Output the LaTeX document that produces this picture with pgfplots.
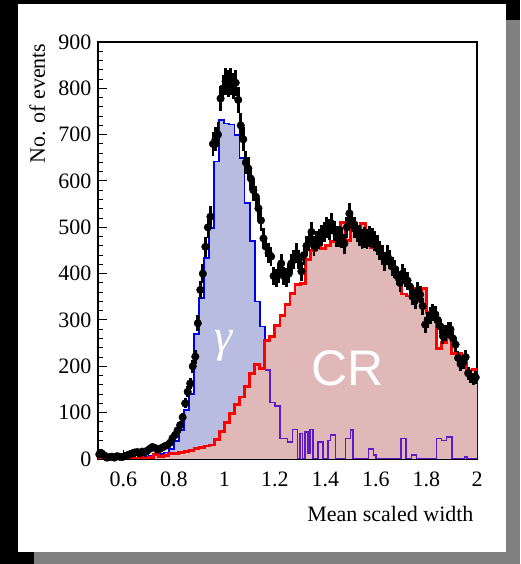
\documentclass[border=0pt]{standalone}
\usepackage{pgfplots}
\pgfplotsset{compat=1.18}
\usepackage{pgfplotstable}
\usepackage{fontspec}
\setmainfont{Liberation Serif}
\newfontfamily\sansf{Liberation Sans}
\definecolor{bfill}{RGB}{184,188,224}
\definecolor{rfill}{RGB}{224,184,184}
\definecolor{bline}{RGB}{0,0,230}
\definecolor{pline}{RGB}{95,25,200}
\definecolor{rline}{RGB}{255,0,0}
\definecolor{shadowgray}{RGB}{128,128,128}

% gamma MC histogram (left bin edges), full
\pgfplotstableread{
x y
0.50 0
0.52 0
0.54 0
0.56 1
0.58 1
0.60 2
0.62 2
0.64 3
0.66 4
0.68 5
0.70 6
0.72 8
0.74 10
0.76 14
0.78 22
0.80 38
0.82 62
0.84 105
0.86 140
0.88 270
0.90 347
0.92 433
0.94 498
0.96 642
0.98 732
1.00 724
1.02 722
1.04 700
1.06 650
1.08 553
1.10 470
1.12 340
1.14 286
1.16 192
1.18 122
1.20 114
1.22 44
1.25 37
1.27 64
1.29 0
1.30 55
1.31 0
1.32 58
1.33 12
1.34 64
1.35 0
1.37 37
1.39 0
1.41 40
1.42 52
1.44 0
1.48 44
1.50 62
1.51 0
1.57 21
1.59 9
1.60 0
1.70 44
1.72 0
1.74 9
1.76 0
1.84 44
1.86 40
1.88 48
1.90 0
1.95 4
1.96 0
2.00 0
}\gammaall

\pgfplotstableread{
x y
0.50 0
0.52 0
0.54 0
0.56 1
0.58 1
0.60 2
0.62 2
0.64 3
0.66 4
0.68 5
0.70 6
0.72 8
0.74 10
0.76 14
0.78 22
0.80 38
0.82 62
0.84 105
0.86 140
0.88 270
0.90 347
0.92 433
0.94 498
0.96 642
0.98 732
1.00 724
1.02 722
1.04 700
1.06 650
1.08 553
1.10 470
1.12 340
1.14 286
1.16 192
}\gammamain

\pgfplotstableread{
x y
1.16 192
1.18 122
1.20 114
1.22 44
1.25 37
1.27 64
1.29 0
1.30 55
1.31 0
1.32 58
1.33 12
1.34 64
1.35 0
1.37 37
1.39 0
1.41 40
1.42 52
1.44 0
1.48 44
1.50 62
1.51 0
1.57 21
1.59 9
1.60 0
1.70 44
1.72 0
1.74 9
1.76 0
1.84 44
1.86 40
1.88 48
1.90 0
1.95 4
1.96 0
2.00 0
}\gammatail

% cosmic-ray MC histogram
\pgfplotstableread{
x y
0.50 2
0.52 3
0.54 2
0.56 3
0.58 2
0.60 4
0.62 3
0.64 2
0.66 3
0.68 2
0.70 4
0.72 10
0.74 5
0.76 8
0.78 12
0.80 12
0.82 14
0.84 17
0.86 18
0.88 22
0.90 25
0.92 28
0.94 30
0.96 42
0.98 60
1.00 78
1.02 99
1.04 118
1.06 134
1.08 157
1.10 185
1.12 204
1.14 196
1.16 255
1.18 264
1.20 288
1.22 310
1.24 333
1.26 358
1.28 376
1.30 378
1.32 430
1.34 450
1.36 460
1.38 455
1.40 460
1.42 470
1.44 475
1.46 510
1.48 472
1.50 510
1.52 500
1.54 508
1.56 465
1.58 457
1.60 450
1.62 438
1.64 434
1.66 414
1.68 387
1.70 356
1.72 352
1.74 368
1.76 348
1.78 368
1.80 317
1.82 301
1.84 239
1.86 251
1.88 263
1.90 227
1.92 227
1.94 212
1.96 192
1.98 194
2.00 194
}\crhist

% data
\pgfplotstableread{
x y e
0.505 10 3.2
0.515 12 3.5
0.525 8 2.8
0.535 3 1.7
0.545 4 2.0
0.555 5 2.2
0.565 3 1.7
0.575 6 2.4
0.585 5 2.2
0.595 4 2.0
0.605 6 2.4
0.615 8 2.8
0.625 10 3.2
0.635 12 3.5
0.645 14 3.7
0.655 15 3.9
0.665 12 3.5
0.675 16 4.0
0.685 14 3.7
0.695 18 4.2
0.705 22 4.7
0.715 26 5.1
0.725 24 4.9
0.735 20 4.5
0.745 22 4.7
0.755 25 5.0
0.765 28 5.3
0.775 30 5.5
0.785 35 5.9
0.795 45 6.7
0.805 52 7.2
0.815 62 7.9
0.825 73 8.5
0.835 90 9.5
0.845 120 11.0
0.855 145 12.0
0.865 163 12.8
0.875 200 14.1
0.885 221 14.9
0.895 293 17.1
0.905 365 19.1
0.915 400 20.0
0.925 458 21.4
0.935 500 22.4
0.945 523 22.9
0.955 680 26.1
0.965 690 26.3
0.975 700 26.5
0.985 778 27.9
0.995 800 28.3
1.005 815 28.5
1.015 810 28.5
1.025 815 28.5
1.035 805 28.4
1.045 812 28.5
1.055 775 27.8
1.065 720 26.8
1.075 690 26.3
1.085 640 25.3
1.095 627 25.0
1.105 605 24.6
1.115 580 24.1
1.125 566 23.8
1.135 541 23.3
1.145 515 22.7
1.155 476 21.8
1.165 458 21.4
1.175 445 21.1
1.185 437 20.9
1.195 395 19.9
1.205 390 19.7
1.215 400 20.0
1.225 422 20.5
1.235 395 19.9
1.245 392 19.8
1.255 400 20.0
1.265 422 20.5
1.275 430 20.7
1.285 444 21.1
1.295 430 20.7
1.305 405 20.1
1.315 440 21.0
1.325 460 21.4
1.335 470 21.7
1.345 490 22.1
1.355 460 21.4
1.365 470 21.7
1.375 475 21.8
1.385 482 22.0
1.395 490 22.1
1.405 500 22.4
1.415 495 22.2
1.425 508 22.5
1.435 492 22.2
1.445 480 21.9
1.455 480 21.9
1.465 478 21.9
1.475 465 21.6
1.485 500 22.4
1.495 530 23.0
1.505 512 22.6
1.515 500 22.4
1.525 490 22.1
1.535 482 22.0
1.545 475 21.8
1.555 478 21.9
1.565 474 21.8
1.575 480 21.9
1.585 477 21.8
1.595 470 21.7
1.605 462 21.5
1.615 450 21.2
1.625 440 21.0
1.635 426 20.6
1.645 440 21.0
1.655 430 20.7
1.665 415 20.4
1.675 410 20.2
1.685 395 19.9
1.695 380 19.5
1.705 400 20.0
1.715 392 19.8
1.725 385 19.6
1.735 372 19.3
1.745 350 18.7
1.755 342 18.5
1.765 362 19.0
1.775 355 18.8
1.785 330 18.2
1.795 290 17.0
1.805 300 17.3
1.815 310 17.6
1.825 316 17.8
1.835 312 17.7
1.845 300 17.3
1.855 286 16.9
1.865 265 16.3
1.875 272 16.5
1.885 278 16.7
1.895 280 16.7
1.905 260 16.1
1.915 247 15.7
1.925 218 14.8
1.935 205 14.3
1.945 208 14.4
1.955 220 14.8
1.965 185 13.6
1.975 178 13.3
1.985 172 13.1
1.995 176 13.3
}\datatab

\begin{document}
\begin{tikzpicture}[x=1pt,y=1pt]
\fill[black] (0,0) rectangle (520,564);
\fill[shadowgray] (34,0) rectangle (520,544);
\fill[white] (18,12) rectangle (506,560);
\begin{axis}[
  at={(98pt,105pt)}, anchor=south west,
  scale only axis, width=379pt, height=417pt,
  xmin=0.5, xmax=2, ymin=0, ymax=900,
  xtick={0.6,0.8,1,1.2,1.4,1.6,1.8,2},
  xticklabels={0.6,0.8,1,1.2,1.4,1.6,1.8,2},
  ytick={0,100,200,300,400,500,600,700,800,900},
  yticklabels={0,100,200,300,400,500,600,700,800,900},
  minor x tick num=3, minor y tick num=4,
  tick pos=left, tick align=inside,
  major tick length=9pt, minor tick length=5pt,
  tick style={black, line width=1pt},
  axis line style={line width=1.8pt, black},
  ticklabel style={font=\fontsize{22}{25}\selectfont},
  /pgf/number format/assume math mode=true,
  xticklabel style={yshift=-9pt},
  yticklabel style={xshift=-3pt},
  xlabel={Mean scaled width},
  ylabel={No. of events},
  label style={font=\fontsize{22}{26}\selectfont},
  xlabel style={at={(axis description cs:1,-0.149)}, anchor=base east},
  ylabel style={at={(axis description cs:-0.14,1.005)}, anchor=base east},
]
\addplot[const plot, fill=bfill, draw=none] table[x=x,y=y] \gammaall \closedcycle;
\addplot[const plot, fill=rfill, draw=none] table[x=x,y=y] \crhist \closedcycle;
\addplot[const plot, draw=bline, line width=1.8pt] table[x=x,y=y] \gammamain;
\addplot[const plot, draw=pline, line width=1.6pt] table[x=x,y=y] \gammatail;
\addplot[const plot, draw=rline, line width=2.8pt] table[x=x,y=y] \crhist;
\node[white, font=\fontsize{46}{46}\selectfont\itshape] at (axis cs:0.995,245) {γ};
\node[white, font=\sansf\fontsize{50}{50}\selectfont] at (axis cs:1.486,196) {CR};
\addplot[only marks, mark=*, mark size=3.8pt, black,
  error bars/.cd, y dir=both, y explicit,
  error bar style={line width=2.8pt, black}, error mark=none]
  table[x=x,y=y,y error=e] \datatab;
\end{axis}
\pgfresetboundingbox
\path (0,0) rectangle (520,564);
\end{tikzpicture}
\end{document}
